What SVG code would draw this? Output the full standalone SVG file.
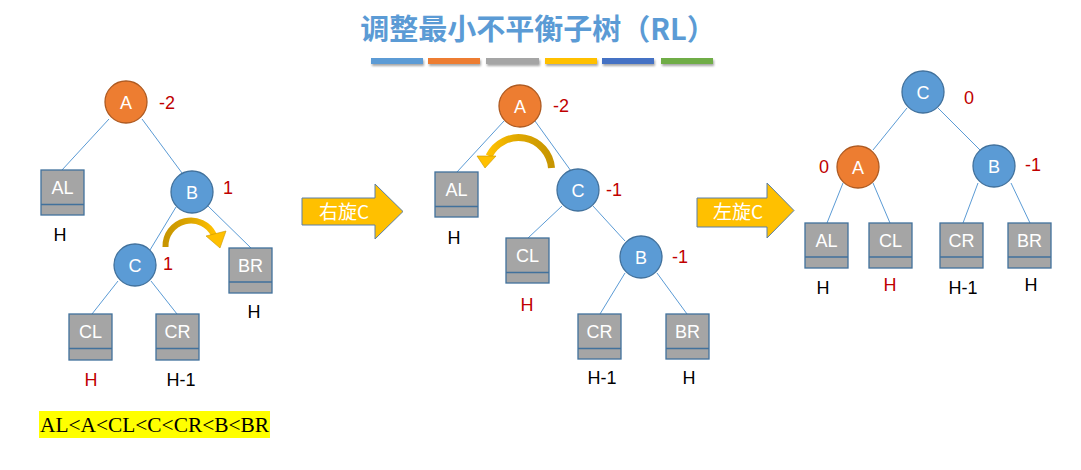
<svg xmlns="http://www.w3.org/2000/svg" width="1081" height="470" viewBox="0 0 1081 470">
<defs>
<style>
.node circle{fill:#5b9bd5;stroke:#41719c;stroke-width:1.3}
.node.hot circle{fill:#ed7d31;stroke:#ae5a21}
.nt{font-family:"Liberation Sans",Arial,sans-serif;font-size:18px;fill:#fff;text-anchor:middle}
.leaf rect{fill:#a5a5a5;stroke:#41719c;stroke-width:1.3}
.leaf line{stroke:#41719c;stroke-width:1.3}
.bf{font-family:"Liberation Sans",Arial,sans-serif;font-size:18px;fill:#c00000;text-anchor:middle}
.h{font-family:"Liberation Sans",Arial,sans-serif;font-size:18px;fill:#000;text-anchor:middle}
.hr{fill:#c00000}
.edges line{stroke:#5b9bd5;stroke-width:1}
.bigarrow{fill:#ffc000;stroke:#5a7fa8;stroke-width:1}
.at{font-family:"Noto Sans CJK SC","Liberation Sans",sans-serif;font-size:19px;fill:#fff;text-anchor:middle}
</style>
<linearGradient id="g1" x1="0" y1="0" x2="1" y2="0">
<stop offset="0" stop-color="#c79500"/><stop offset="0.55" stop-color="#e0a800"/><stop offset="1" stop-color="#ffc000"/>
</linearGradient>
<linearGradient id="g2" x1="1" y1="0" x2="0" y2="0">
<stop offset="0" stop-color="#c79500"/><stop offset="0.55" stop-color="#e0a800"/><stop offset="1" stop-color="#ffc000"/>
</linearGradient>
<filter id="sh" x="-10%" y="-50%" width="120%" height="250%"><feDropShadow dx="1" dy="2" stdDeviation="1" flood-opacity="0.35"/></filter>
</defs>
<rect width="1081" height="470" fill="#fff"/>

<g id="title">
<text x="538" y="40" font-family="'Noto Sans CJK SC',sans-serif" font-size="29" font-weight="bold" fill="#5b9bd5" text-anchor="middle">调整最小不平衡子树（RL）</text>
<g filter="url(#sh)">
<rect x="371" y="58" width="52" height="6" fill="#5b9bd5"/>
<rect x="428" y="58" width="52" height="6" fill="#ed7d31"/>
<rect x="486" y="58" width="53" height="6" fill="#a5a5a5"/>
<rect x="545" y="58" width="52" height="6" fill="#ffc000"/>
<rect x="602" y="58" width="52" height="6" fill="#4472c4"/>
<rect x="661" y="58" width="52" height="6" fill="#70ad47"/>
</g>
</g>

<g id="connectors" class="edges">
<line x1="109" y1="119" x2="62" y2="170"/>
<line x1="142" y1="119" x2="182" y2="173"/>
<line x1="176" y1="207" x2="150" y2="250"/>
<line x1="208" y1="206" x2="251" y2="248"/>
<line x1="118" y1="281" x2="92" y2="314"/>
<line x1="151" y1="281" x2="177" y2="314"/>
<line x1="504" y1="121" x2="457" y2="172"/>
<line x1="535" y1="121" x2="571" y2="171"/>
<line x1="562" y1="206" x2="528" y2="238"/>
<line x1="593" y1="206" x2="625" y2="241"/>
<line x1="625" y1="273" x2="600" y2="314"/>
<line x1="657" y1="273" x2="687" y2="314"/>
<line x1="907" y1="108" x2="873" y2="150"/>
<line x1="938" y1="108" x2="980" y2="150"/>
<line x1="843" y1="183" x2="827" y2="223"/>
<line x1="873" y1="183" x2="890" y2="223"/>
<line x1="978" y1="183" x2="963" y2="223"/>
<line x1="1011" y1="183" x2="1030" y2="223"/>
</g>

<g id="t1-A" class="node hot"><circle cx="126" cy="102" r="21"/><text class="nt" x="126" y="108.5">A</text></g>
<text class="bf" x="167" y="109">-2</text>
<g id="t1-AL" class="leaf"><rect x="41" y="170" width="43" height="45"/><line x1="41" y1="204.5" x2="84" y2="204.5"/><text class="nt" x="62.5" y="193.5">AL</text></g>
<text class="h" x="60" y="241">H</text>
<g id="t1-B" class="node"><circle cx="192" cy="192" r="21"/><text class="nt" x="192" y="198.5">B</text></g>
<text class="bf" x="228" y="194">1</text>
<g id="t1-C" class="node"><circle cx="135" cy="265" r="21"/><text class="nt" x="135" y="271.5">C</text></g>
<text class="bf" x="168" y="270">1</text>
<g id="t1-BR" class="leaf"><rect x="229" y="248" width="43" height="45"/><line x1="229" y1="282" x2="272" y2="282"/><text class="nt" x="250.5" y="271.5">BR</text></g>
<text class="h" x="254" y="318">H</text>
<g id="t1-CL" class="leaf"><rect x="69" y="314" width="43" height="46"/><line x1="69" y1="348.5" x2="112" y2="348.5"/><text class="nt" x="90.5" y="337.5">CL</text></g>
<text class="h hr" x="91" y="386">H</text>
<g id="t1-CR" class="leaf"><rect x="156" y="314" width="43" height="46"/><line x1="156" y1="348.5" x2="199" y2="348.5"/><text class="nt" x="177.5" y="337.5">CR</text></g>
<text class="h" x="181" y="386">H-1</text>
<g id="t1-rot">
<path d="M165.5 247 A25.5 25.5 0 0 1 214 235" fill="none" stroke="url(#g1)" stroke-width="6"/>
<polygon points="206,236 226,231 220,248" fill="#ffc000" stroke="#c79500" stroke-width="0.6"/>
</g>
<g id="order">
<rect x="39" y="411" width="231" height="27" fill="#ffff00"/>
<text x="40" y="432" font-family="'Liberation Serif','Times New Roman',serif" font-size="21" fill="#000" textLength="229" lengthAdjust="spacingAndGlyphs">AL&lt;A&lt;CL&lt;C&lt;CR&lt;B&lt;BR</text>
</g>

<g id="arrow-right-rot">
<polygon class="bigarrow" points="302,198 375,198 375,184 403,211.5 375,239 375,225 302,225"/>
<text class="at" x="344" y="219">右旋C</text>
</g>

<g id="t2-A" class="node hot"><circle cx="520" cy="106" r="21"/><text class="nt" x="520" y="112.5">A</text></g>
<text class="bf" x="561" y="112">-2</text>
<g id="t2-AL" class="leaf"><rect x="435" y="172" width="43" height="45"/><line x1="435" y1="206.5" x2="478" y2="206.5"/><text class="nt" x="456.5" y="195.5">AL</text></g>
<text class="h" x="454" y="244">H</text>
<g id="t2-C" class="node"><circle cx="578" cy="190" r="21"/><text class="nt" x="578" y="196.5">C</text></g>
<text class="bf" x="614" y="196">-1</text>
<g id="t2-CL" class="leaf"><rect x="506" y="238" width="43" height="45"/><line x1="506" y1="272.5" x2="549" y2="272.5"/><text class="nt" x="527.5" y="261.5">CL</text></g>
<text class="h hr" x="527" y="311">H</text>
<g id="t2-B" class="node"><circle cx="641" cy="257" r="21"/><text class="nt" x="641" y="263.5">B</text></g>
<text class="bf" x="680" y="263">-1</text>
<g id="t2-CR" class="leaf"><rect x="578" y="314" width="43" height="45"/><line x1="578" y1="348.5" x2="621" y2="348.5"/><text class="nt" x="599.5" y="337.5">CR</text></g>
<text class="h" x="602" y="384">H-1</text>
<g id="t2-BR" class="leaf"><rect x="666" y="314" width="43" height="45"/><line x1="666" y1="348.5" x2="709" y2="348.5"/><text class="nt" x="687.5" y="337.5">BR</text></g>
<text class="h" x="689" y="384">H</text>
<g id="t2-rot">
<path d="M551.5 168 A33 33 0 0 0 489 156" fill="none" stroke="url(#g2)" stroke-width="7"/>
<polygon points="477,156 496,156 485,168" fill="#ffc000" stroke="#c79500" stroke-width="0.6"/>
</g>

<g id="arrow-left-rot">
<polygon class="bigarrow" points="697,198 767,198 767,183 794,210.5 767,238 767,227 697,227"/>
<text class="at" x="738" y="219">左旋C</text>
</g>

<g id="t3-C" class="node"><circle cx="923" cy="92" r="21"/><text class="nt" x="923" y="98.5">C</text></g>
<text class="bf" x="969" y="104">0</text>
<g id="t3-A" class="node hot"><circle cx="858" cy="167" r="21"/><text class="nt" x="858" y="173.5">A</text></g>
<text class="bf" x="824" y="173">0</text>
<g id="t3-B" class="node"><circle cx="994" cy="166" r="21"/><text class="nt" x="994" y="172.5">B</text></g>
<text class="bf" x="1033" y="171">-1</text>
<g id="t3-AL" class="leaf"><rect x="805" y="223" width="43" height="45"/><line x1="805" y1="257" x2="848" y2="257"/><text class="nt" x="826.5" y="246.5">AL</text></g>
<text class="h" x="823" y="294">H</text>
<g id="t3-CL" class="leaf"><rect x="869" y="223" width="43" height="45"/><line x1="869" y1="257" x2="912" y2="257"/><text class="nt" x="890.5" y="246.5">CL</text></g>
<text class="h hr" x="890" y="291">H</text>
<g id="t3-CR" class="leaf"><rect x="940" y="223" width="43" height="45"/><line x1="940" y1="257" x2="983" y2="257"/><text class="nt" x="961.5" y="246.5">CR</text></g>
<text class="h" x="963" y="294">H-1</text>
<g id="t3-BR" class="leaf"><rect x="1008" y="223" width="43" height="45"/><line x1="1008" y1="257" x2="1051" y2="257"/><text class="nt" x="1029.5" y="246.5">BR</text></g>
<text class="h" x="1031" y="291">H</text>
</svg>
